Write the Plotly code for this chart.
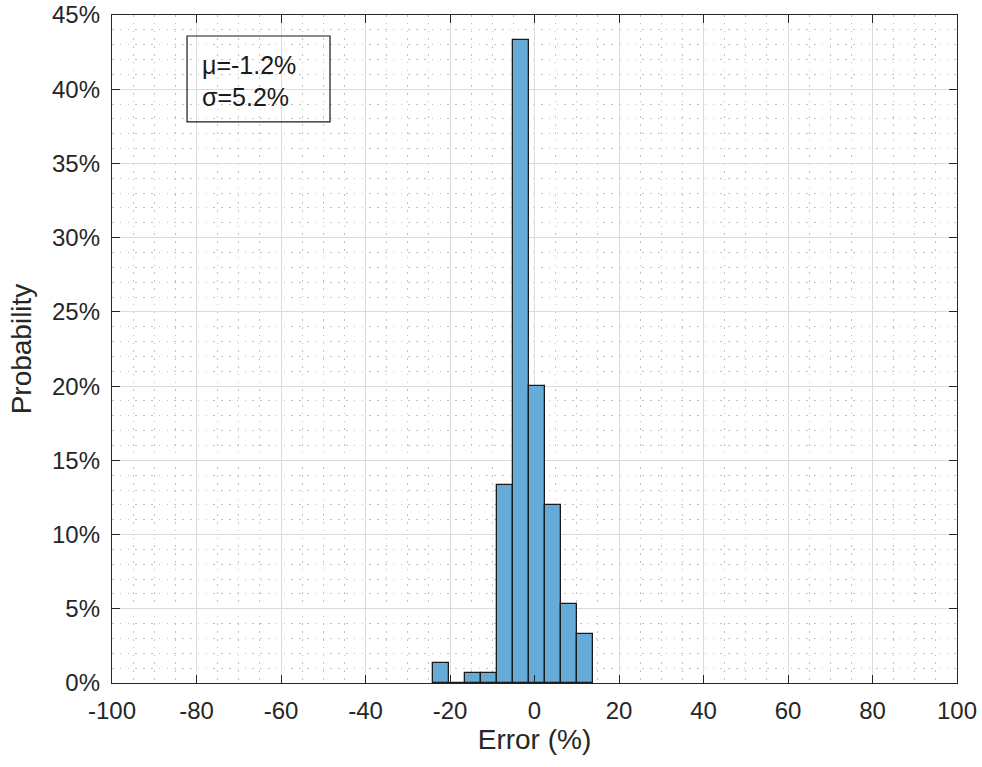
import plotly.graph_objects as go

# Histogram data (probability in %)
bin_edges = [-24.12, -20.32, -16.51, -12.71, -8.90, -5.10, -1.30, 2.51, 6.31, 10.12, 13.92]
probability = [1.333, 0.0, 0.667, 0.667, 13.333, 43.333, 20.0, 12.0, 5.333, 3.333]
x_ticks = [-100, -80, -60, -40, -20, 0, 20, 40, 60, 80, 100]
y_ticks = [0, 5, 10, 15, 20, 25, 30, 35, 40, 45]
stats_text = ["μ=-1.2%", "σ=5.2%"]

centers = [(a + b) / 2 for a, b in zip(bin_edges[:-1], bin_edges[1:])]
widths = [b - a for a, b in zip(bin_edges[:-1], bin_edges[1:])]

FONT = "Liberation Sans, Arial, sans-serif"
AX = "#262626"

fig = go.Figure()
fig.add_trace(go.Bar(
    x=centers, y=probability, width=widths,
    marker=dict(color="rgb(102,170,215)", line=dict(color="#1a1a1a", width=1.3)),
    showlegend=False, hoverinfo="x+y",
))

axis_common = dict(
    showline=True, linecolor=AX, linewidth=1.3, mirror="allticks",
    ticks="inside", ticklen=8, tickwidth=1.3, tickcolor=AX,
    showgrid=True, gridcolor="#dcdcdc", gridwidth=1,
    zeroline=False, automargin=False, ticklabeloverflow="allow",
    tickfont=dict(family=FONT, size=24, color=AX),
    title_font=dict(family=FONT, size=28, color=AX),
)

minor_style = dict(showgrid=True, gridcolor="#c2c2c2", griddash="1.5px,6.3px", gridwidth=1.3, ticks="")

fig.update_xaxes(
    **axis_common,
    range=[-100, 100], tickvals=x_ticks, ticktext=[str(v) for v in x_ticks],
    title_text="Error (%)", title_standoff=6, ticklabelstandoff=6,
    minor=dict(dtick=5, **minor_style),
)
fig.update_yaxes(
    **axis_common,
    range=[0, 45], tickvals=y_ticks, ticktext=[f"{v}%" for v in y_ticks],
    title_text="Probability", title_standoff=12, ticklabelstandoff=6,
    minor=dict(dtick=1, **minor_style),
)

fig.add_shape(type="rect", xref="paper", yref="paper",
              x0=0.0888, x1=0.258, y0=0.840, y1=0.9686,
              line=dict(color="#1a1a1a", width=1.2), fillcolor="rgba(0,0,0,0)")
for txt, yy in zip(stats_text, [0.925, 0.877]):
    fig.add_annotation(xref="paper", yref="paper", x=0.104, y=yy,
                       text=txt, showarrow=False, xanchor="left", yanchor="middle",
                       font=dict(family=FONT, size=25, color="#1a1a1a"))

fig.update_layout(
    width=982, height=767,
    margin=dict(l=112, r=25, t=15, b=84),
    paper_bgcolor="white", plot_bgcolor="white",
    bargap=0,
)

# remove the default 8px page margin so the figure fills the window exactly
fig.write_html("out.html", config={"displayModeBar": False},
               post_script="document.body.style.margin='0';document.body.style.overflow='hidden';")
